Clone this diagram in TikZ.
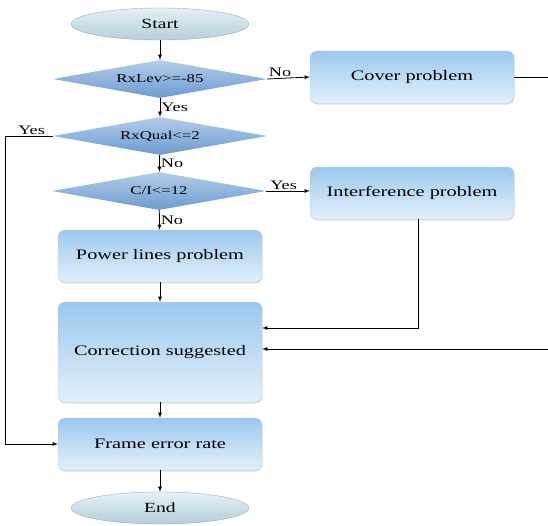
\documentclass[tikz,border=0pt]{standalone}
\usepackage{fontspec}
\setmainfont{Liberation Serif}
\newfontfamily\widefont[FakeStretch=1.4]{Liberation Serif}
\usepackage{tikz}
\usetikzlibrary{shadows}
\usetikzlibrary{positioning}
\usetikzlibrary{arrows,shapes}
\usetikzlibrary{calc}
\definecolor{boxtop}{HTML}{9CC7EE}
\definecolor{boxbot}{HTML}{E2F1FB}
\definecolor{boxline}{HTML}{B9CFE2}
\definecolor{testtop}{HTML}{B3CDE9}
\definecolor{testbot}{HTML}{6C9BD0}
\definecolor{termtop}{HTML}{E6F1F4}
\definecolor{termbot}{HTML}{B3CEDA}
\definecolor{termline}{HTML}{93B3C2}
\tikzstyle{box}=[rectangle,rounded corners=7pt,top color=boxtop,bottom color=boxbot,draw=boxline,minimum width=204pt,minimum height=52pt,inner sep=0pt,font=\widefont\fontsize{14.5}{16}\selectfont,drop shadow={shadow xshift=0.5pt,shadow yshift=-1.5pt,opacity=0.25}]
\tikzstyle{test}=[diamond,top color=testtop,bottom color=testbot,draw=none,minimum width=214pt,minimum height=38pt,inner sep=0pt,aspect=5.7,font=\widefont\fontsize{12}{14}\selectfont]
\tikzstyle{terminal}=[ellipse,top color=termtop,bottom color=termbot,draw=termline,minimum width=178pt,minimum height=32pt,inner sep=0pt,font=\widefont\fontsize{14}{16}\selectfont]
\tikzstyle{edge} = [draw,line width=0.8pt,->,>=latex]
\tikzstyle{answer} = [font=\widefont\fontsize{13}{15}\selectfont,inner sep=1pt]

\begin{document}
\begin{tikzpicture}[x=1pt,y=-1pt]
    \useasboundingbox (0,0) rectangle (548,525);

    \foreach \pos/\name/\label in {{(160,24)/start/Start}, {(160,508)/end/End}}
        \node[terminal] (\name) at \pos {\label};

    \foreach \pos/\name/\label in {{(160,79)/lev/RxLev>=-85}, {(160,136)/qual/RxQual<=2}, {(159,191)/ci/{C/I<=12}}}
        \node[test] (\name) at \pos {\label};

    \foreach \pos/\name/\label in {{(412,77)/cover/Cover problem}, {(412,193)/interf/Interference problem}, {(160,256)/power/Power lines problem}, {(160,444)/fer/Frame error rate}}
        \node[box] (\name) at \pos {\label};
    \node[box,minimum height=100pt] (corr) at (160,352) {Correction suggested};

    \foreach \source/ \dest /\weight in {start/lev/{}, lev/qual/Yes, qual/ci/No, ci/power/No, power/corr/{}, corr/fer/{}, fer/end/{}}
        \path[edge] (\source) -- node[answer,right] {\weight} (\dest);

    \path[edge] (lev.east) -- node[answer,above,pos=0.3] {No} (cover.west);
    \path[edge] (ci.east) -- node[answer,above,pos=0.4] {Yes} (interf.west |- ci.east);
    \path[edge] (qual.west) -- node[answer,above,pos=0.45] {Yes} ++(-47,0) |- (fer.west);
    \path[edge] ([xshift=6pt]interf.south) |- ([yshift=24pt]corr.east);
    \path[edge] (cover.east) -- ++(40,0) |- ([yshift=3pt]corr.east);

\end{tikzpicture}
\end{document}
